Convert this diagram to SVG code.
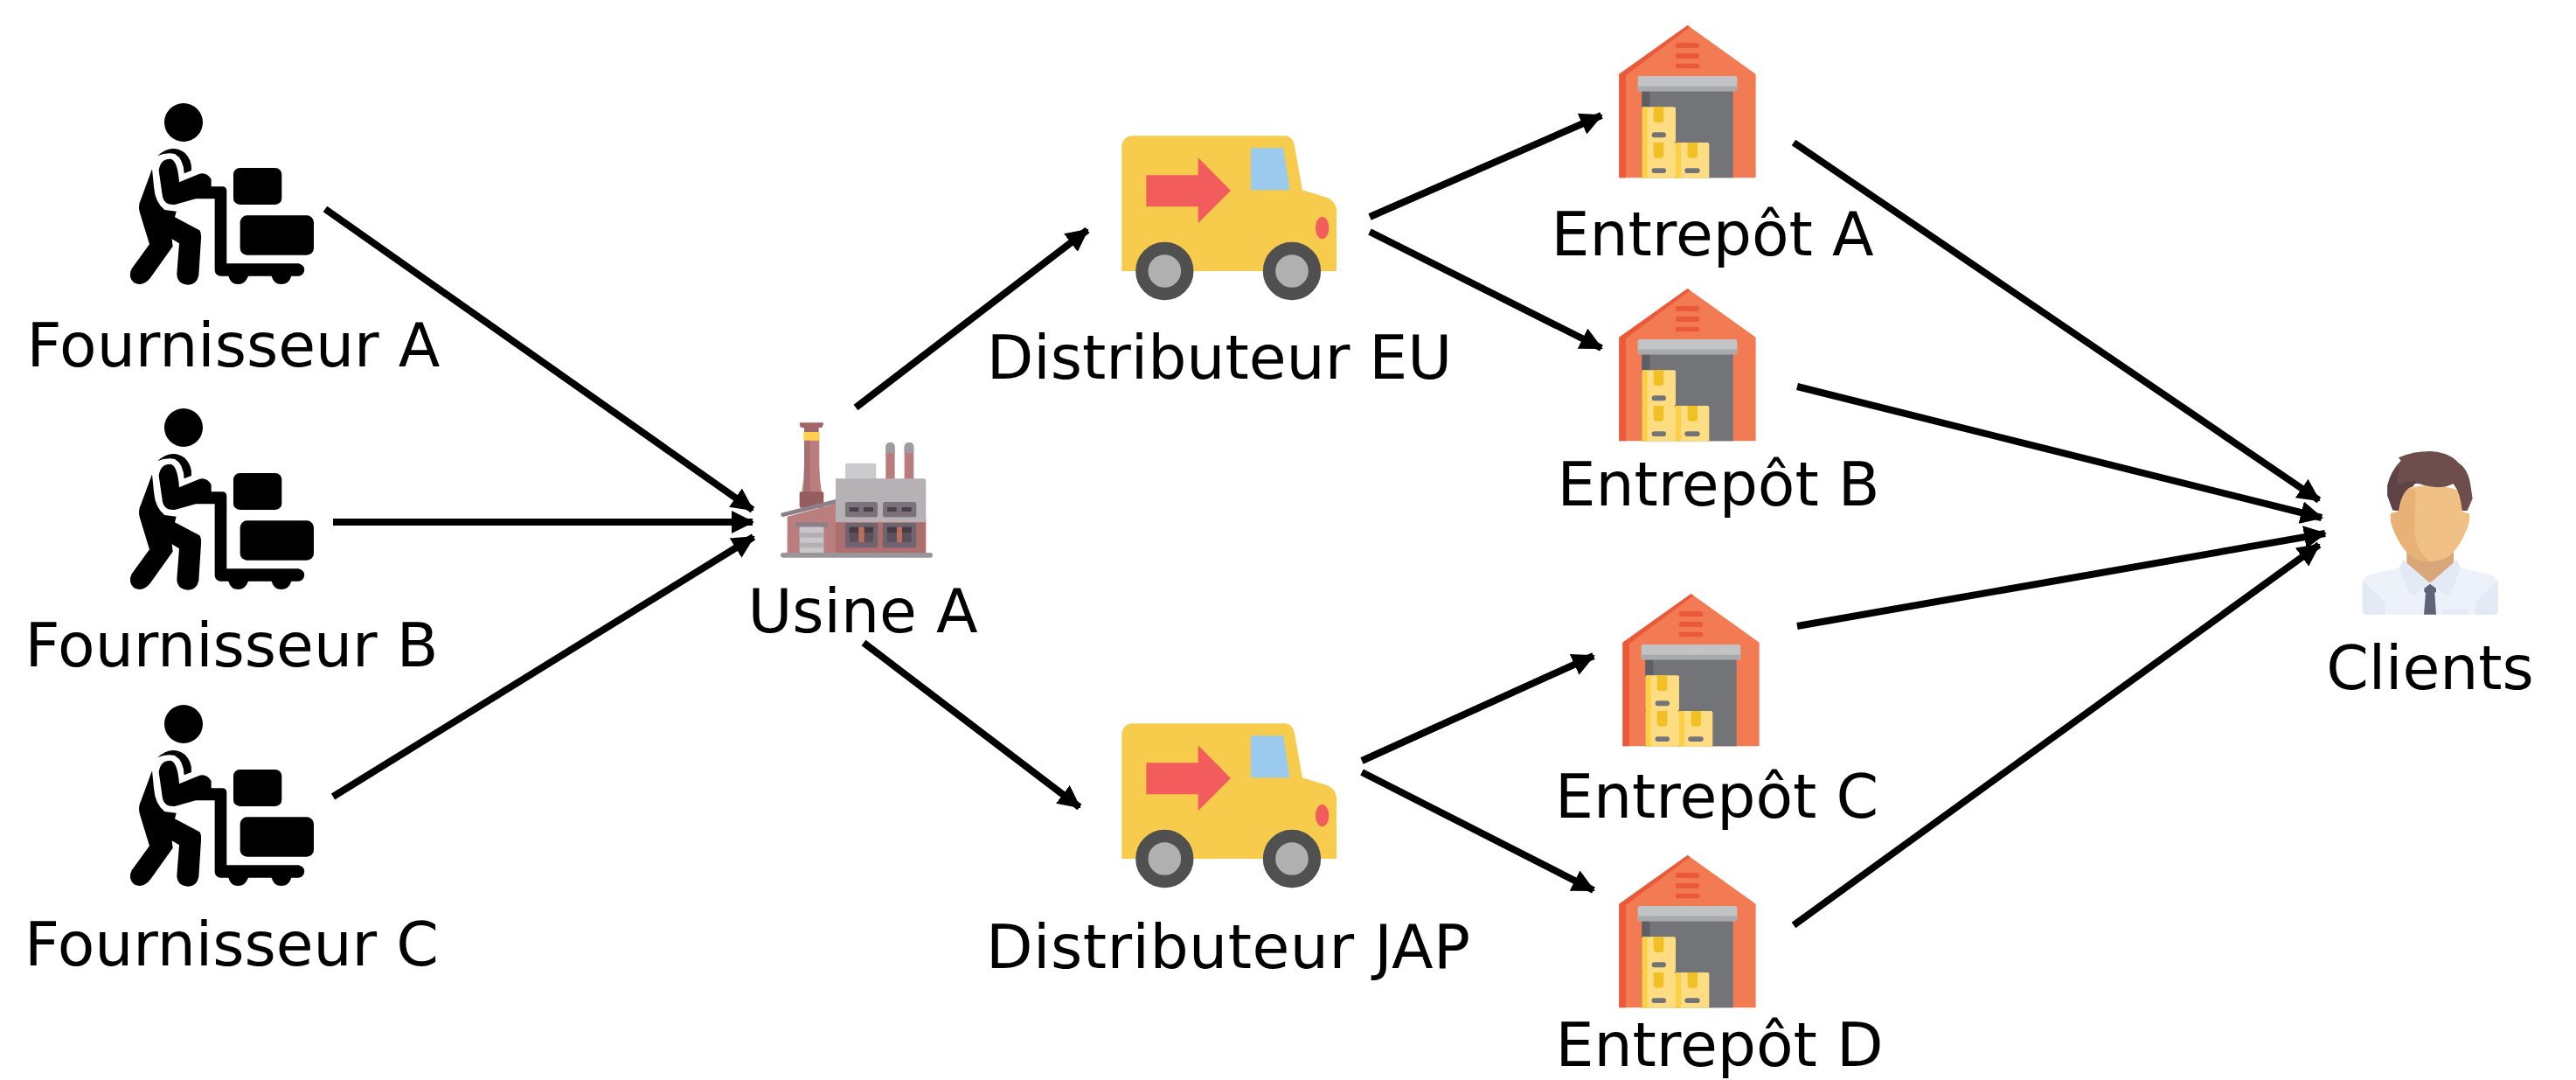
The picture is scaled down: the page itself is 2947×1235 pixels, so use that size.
<svg xmlns="http://www.w3.org/2000/svg" width="2947" height="1235" viewBox="0 0 2947 1235">
<style>
text{font-family:"DejaVu Sans","Liberation Sans",sans-serif;font-size:69.6px;fill:#000;text-anchor:middle}
.c{fill:none;stroke:#000;stroke-width:8;marker-end:url(#a)}
</style>
<defs>
<marker id="a" markerUnits="userSpaceOnUse" markerWidth="26" markerHeight="26" refX="24" refY="13" orient="auto"><path d="M0 0L26 13L0 26z" fill="#000"/></marker>
<g id="worker">
<circle cx="330" cy="120" r="66"/>
<path d="M240 235Q290 190 335 225Q360 250 357 285L332 295Q330 245 300 228Q270 222 240 235z"/>
<path d="M222 280L228 340Q232 395 265 420L305 425L300 445L385 490Q392 500 390 520L382 645Q375 677 345 677Q308 675 307 640L315 535L290 520L293 545L215 655Q190 685 160 670Q138 650 152 622L213 538L180 430Q172 405 185 380z"/>
<path d="M245 285Q250 245 285 245Q310 250 315 325L385 296Q410 290 425 315V340H465Q478 342 478 355V604H725Q745 610 745 626Q742 645 725 647H700Q692 675 665 675Q640 675 632 647H552Q542 675 517 675Q492 675 484 647H455Q437 645 437 625V382H372L300 402Q265 405 258 375z"/>
<rect x="501" y="276" width="166" height="126" rx="22"/>
<rect x="524" y="439" width="253" height="136" rx="24"/>
</g>
<g id="truck">
<path d="M40 75Q50 47 75 46H600Q625 48 632 75L660 232L745 258Q775 272 777 300V510H40z" fill="#f7cb4c"/>
<path d="M124 181H302V121L414 234L302 346V289H124z" fill="#f25c5c"/>
<path d="M483 88H594L617 232H483z" fill="#9acbef"/>
<ellipse cx="728" cy="362" rx="23" ry="38" fill="#f25c5c"/>
<circle cx="187" cy="510" r="78" fill="#b0b0b0" stroke="#505050" stroke-width="43"/>
<circle cx="624" cy="510" r="78" fill="#b0b0b0" stroke="#505050" stroke-width="43"/>
</g>
<g id="house">
<path d="M37 224L272 57L506 224V580H37z" fill="#f37b53"/>
<path d="M37 224L272 57L280 64L60 228V580H37z" fill="#ea5a3a"/>
<rect x="230" y="117" width="83" height="18" rx="9" fill="#ea5a3a"/>
<rect x="230" y="153" width="83" height="18" rx="9" fill="#ea5a3a"/>
<rect x="230" y="188" width="83" height="17" rx="8" fill="#ea5a3a"/>
<rect x="115" y="280" width="313" height="300" fill="#737478"/>
<rect x="115" y="280" width="27" height="60" fill="#5e5f64"/>
<rect x="101" y="231" width="341" height="52" rx="6" fill="#c1c3c5"/>
<rect x="101" y="266" width="341" height="17" fill="#a8aaad"/>
<rect x="116" y="337" width="115" height="122" rx="6" fill="#fedc82"/>
<rect x="116" y="459" width="115" height="122" rx="6" fill="#fedc82"/>
<rect x="231" y="459" width="115" height="122" rx="6" fill="#fedc82"/>
<rect x="116" y="337" width="18" height="244" fill="#fdcf45"/>
<rect x="231" y="459" width="18" height="122" fill="#fdcf45"/>
<path d="M155 337H190V380Q190 390 180 390H165Q155 390 155 380zM155 459H190V502Q190 512 180 512H165Q155 512 155 502zM272 459H306V502Q306 512 296 512H282Q272 512 272 502z" fill="#f1c024"/>
<rect x="149" y="424" width="49" height="18" rx="9" fill="#737478"/>
<rect x="149" y="547" width="49" height="17" rx="8" fill="#737478"/>
<rect x="262" y="547" width="52" height="17" rx="8" fill="#737478"/>
</g>
</defs>
<g id="connectors">
<path class="c" d="M372 239L861 583"/>
<path class="c" d="M381 597H861"/>
<path class="c" d="M381 911L862 614"/>
<path class="c" d="M979 466L1244 263"/>
<path class="c" d="M988 735L1235 923"/>
<path class="c" d="M1567 248L1832 132"/>
<path class="c" d="M1567 265L1832 398"/>
<path class="c" d="M1558 870L1823 750"/>
<path class="c" d="M1558 883L1823 1018"/>
<path class="c" d="M2052 163L2653 572"/>
<path class="c" d="M2056 442L2656 592"/>
<path class="c" d="M2056 716L2660 610"/>
<path class="c" d="M2052 1058L2653 623"/>
</g>
<g id="fournisseur-a"><use href="#worker" transform="translate(100 100) scale(.3333)"/><text x="267" y="419">Fournisseur A</text></g>
<g id="fournisseur-b"><use href="#worker" transform="translate(100 449) scale(.3333)"/><text x="265" y="762">Fournisseur B</text></g>
<g id="fournisseur-c"><use href="#worker" transform="translate(100 788) scale(.3333)"/><text x="265" y="1104">Fournisseur C</text></g>
<g id="usine-a"><g transform="translate(860 460) scale(.3333)">
<path d="M165 70H245Q248 78 240 87H230V102H180V87H170Q162 78 165 70z" fill="#a26568"/>
<path d="M180 130H232V215Q232 260 240 310H172Q180 260 180 215z" fill="#bb7e7e"/>
<rect x="180" y="130" width="20" height="180" fill="#a86f70"/>
<rect x="178" y="102" width="55" height="29" fill="#fdd050"/>
<rect x="164" y="307" width="83" height="55" rx="6" fill="#955d5e"/>
<path d="M122 392L288 348V520H122z" fill="#bb7e7e"/>
<path d="M100 380L288 333V348L108 393Q98 392 100 380z" fill="#8b7f89"/>
<rect x="288" y="400" width="310" height="120" fill="#ac6f6d"/>
<rect x="321" y="209" width="106" height="60" rx="8" fill="#cbcacc"/>
<path d="M460 155Q460 138 476 138Q491 138 491 155V265H460zM524 155Q524 138 540 138Q556 138 556 155V265H524z" fill="#b87c7c"/>
<path d="M460 175V155Q460 138 476 138Q491 138 491 155V175zM524 175V155Q524 138 540 138Q556 138 556 155V175z" fill="#9e9ca1"/>
<path d="M288 262H590Q598 262 598 270V412H288z" fill="#b5b1b5"/>
<rect x="321" y="342" width="111" height="52" rx="8" fill="#7b727c"/>
<rect x="450" y="342" width="115" height="52" rx="8" fill="#7b727c"/>
<path d="M335 360H367V375H335zM384 360H417V375H384zM465 360H497V375H465zM515 360H548V375H515z" fill="#4d3f4b"/>
<rect x="321" y="414" width="111" height="85" rx="8" fill="#6f6470"/>
<rect x="450" y="414" width="115" height="85" rx="8" fill="#6f6470"/>
<path d="M335 428H417V480H335zM465 428H548V480H465z" fill="#5c505c"/>
<path d="M335 428H367V447H335zM386 428H417V447H386zM465 428H497V447H465zM516 428H548V447H516z" fill="#463a45"/>
<path d="M367 428H386V480H367zM498 428H516V480H498z" fill="#b9705f"/>
<rect x="150" y="412" width="111" height="16" fill="#8b7f89"/>
<rect x="164" y="428" width="83" height="90" fill="#c9c7c9"/>
<path d="M164 447H247V464H164zM164 482H247V499H164z" fill="#b2b0b3"/>
<rect x="99" y="516" width="522" height="17" rx="8" fill="#9a959b"/>
</g><text x="987" y="723">Usine A</text></g>
<g id="distributeur-eu"><use href="#truck" transform="translate(1270 140) scale(.3333)"/><text x="1395" y="433">Distributeur EU</text></g>
<g id="distributeur-jap"><use href="#truck" transform="translate(1270 812) scale(.3333)"/><text x="1405" y="1107" textLength="554">Distributeur JAP</text></g>
<g id="entrepot-a"><use href="#house" transform="translate(1840 10) scale(.3333)"/><text x="1959" y="292">Entrepôt A</text></g>
<g id="entrepot-b"><use href="#house" transform="translate(1840 311) scale(.3333)"/><text x="1966" y="578">Entrepôt B</text></g>
<g id="entrepot-c"><use href="#house" transform="translate(1844 660) scale(.3333)"/><text x="1964" y="935">Entrepôt C</text></g>
<g id="entrepot-d"><use href="#house" transform="translate(1840 959) scale(.3333)"/><text x="1967" y="1219">Entrepôt D</text></g>
<g id="clients"><g transform="translate(2680 500) scale(.3333)">
<path d="M68 500Q70 480 95 472L195 448L300 500L405 448L505 472Q532 482 533 500V600Q530 608 520 608H80Q70 608 68 600z" fill="#edf1fa"/>
<path d="M68 492L145 565V608H80Q68 606 68 596zM533 492L456 565V608H520Q533 606 533 596zM343 592H428V608H343z" fill="#e3e9f5"/>
<path d="M220 380H381V440L300 500L220 440z" fill="#d8a679"/>
<path d="M165 262L190 255V200Q195 170 300 165Q405 170 410 200V255L435 262Q438 295 422 325Q405 370 370 405Q340 427 300 425Q260 427 230 405Q195 370 178 325Q162 295 165 262z" fill="#f1c084"/>
<path d="M190 200Q195 170 250 180L247 330Q255 395 300 425Q255 425 230 405Q195 370 178 325Q162 295 165 262L190 255z" fill="#e8b277"/>
<path d="M192 70Q240 48 300 48Q365 50 400 90Q432 110 440 170L446 210L428 252L410 252Q405 190 380 160Q340 180 280 165Q235 145 195 195L192 252L172 250L154 200V165Q165 115 200 80z" fill="#6e4e4d"/>
<path d="M154 165Q165 120 195 100L185 165Q220 150 255 150L240 170Q205 175 192 252L172 250L154 200z" fill="#5e4245"/>
<path d="M195 450L207 420L300 500L245 542Q232 540 225 525zM405 450L393 420L300 500L355 542Q368 540 375 525z" fill="#e3e9f5"/>
<path d="M280 518L300 503L321 518V530L316 534L321 608H279L285 534L280 530z" fill="#5f6478"/>
</g><text x="2780" y="788">Clients</text></g>
</svg>
